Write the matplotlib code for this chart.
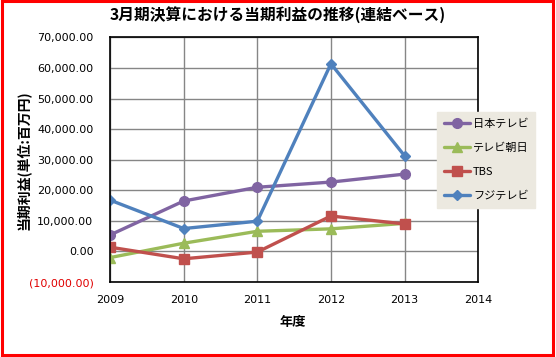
import matplotlib.pyplot as plt
from matplotlib.ticker import FuncFormatter, MultipleLocator
from matplotlib.patches import Rectangle

plt.rcParams['font.family'] = ['Noto Sans CJK JP', 'DejaVu Sans']

years = [2009, 2010, 2011, 2012, 2013]
ntv = [5400, 16500, 21000, 22700, 25300]        # 日本テレビ
tv_asahi = [-2000, 2700, 6600, 7400, 9200]      # テレビ朝日
tbs = [1400, -2400, -200, 11600, 9000]          # TBS
fuji = [16800, 7500, 9900, 61400, 31300]        # フジテレビ

series = [
    ("日本テレビ", ntv, "#8064A2", "o", 7),
    ("テレビ朝日", tv_asahi, "#9BBB59", "^", 7),
    ("TBS", tbs, "#C0504D", "s", 7),
    ("フジテレビ", fuji, "#4F81BD", "D", 5.5),
]

fig = plt.figure(figsize=(5.56, 3.57), dpi=100)
ax = fig.add_axes([0.198, 0.21, 0.662, 0.685])

for name, vals, col, mk, ms in series:
    ax.plot(years, vals, color=col, lw=2.4, marker=mk, markersize=ms,
            label=name, solid_capstyle='round')

ax.set_xlim(2009, 2014)
ax.set_ylim(-10000, 70000)
ax.xaxis.set_major_locator(MultipleLocator(1))
ax.yaxis.set_major_locator(MultipleLocator(10000))


def fmt(v, pos):
    if v < 0:
        return "({:,.2f})".format(-v)
    return "{:,.2f}".format(v)


ax.yaxis.set_major_formatter(FuncFormatter(fmt))
ax.grid(True, color="#868686", lw=1)
ax.set_axisbelow(True)
ax.tick_params(axis='y', length=0, labelsize=8, pad=12)
ax.tick_params(axis='x', length=0, labelsize=8, pad=9)
for lab in ax.get_yticklabels() + ax.get_xticklabels():
    lab.set_family('DejaVu Sans')
    if lab.get_text().startswith("("):
        lab.set_color("#E00000")
for s in ax.spines.values():
    s.set_color("black")
    s.set_linewidth(1.2)

ax.set_xlabel("年度", fontsize=9.5, fontweight='bold')
ax.xaxis.set_label_coords(0.495, -0.135)
ax.set_ylabel("当期利益(単位:百万円)", fontsize=10, fontweight='bold')
ax.yaxis.set_label_coords(-0.215, 0.5)
fig.text(0.5, 0.96, "3月期決算における当期利益の推移(連結ベース)",
         ha='center', va='center', fontsize=11.3, fontweight='bold')

leg = ax.legend(loc='upper left', bbox_to_anchor=(437 / 556, 1 - 112 / 357),
                bbox_transform=fig.transFigure, fontsize=8,
                frameon=True, fancybox=False, handlelength=2.4,
                labelspacing=1.25, borderpad=0.6, handletextpad=0.25,
                borderaxespad=0)
leg.get_frame().set_facecolor("#ECE9E0")
leg.get_frame().set_edgecolor("#ECE9E0")
leg.get_frame().set_alpha(1)

fig.patches.append(Rectangle((0.004, 0.006), 0.99, 0.99, transform=fig.transFigure,
                             fill=False, edgecolor="#FF0000", lw=2.2))

fig.savefig("out.png", dpi=100)
